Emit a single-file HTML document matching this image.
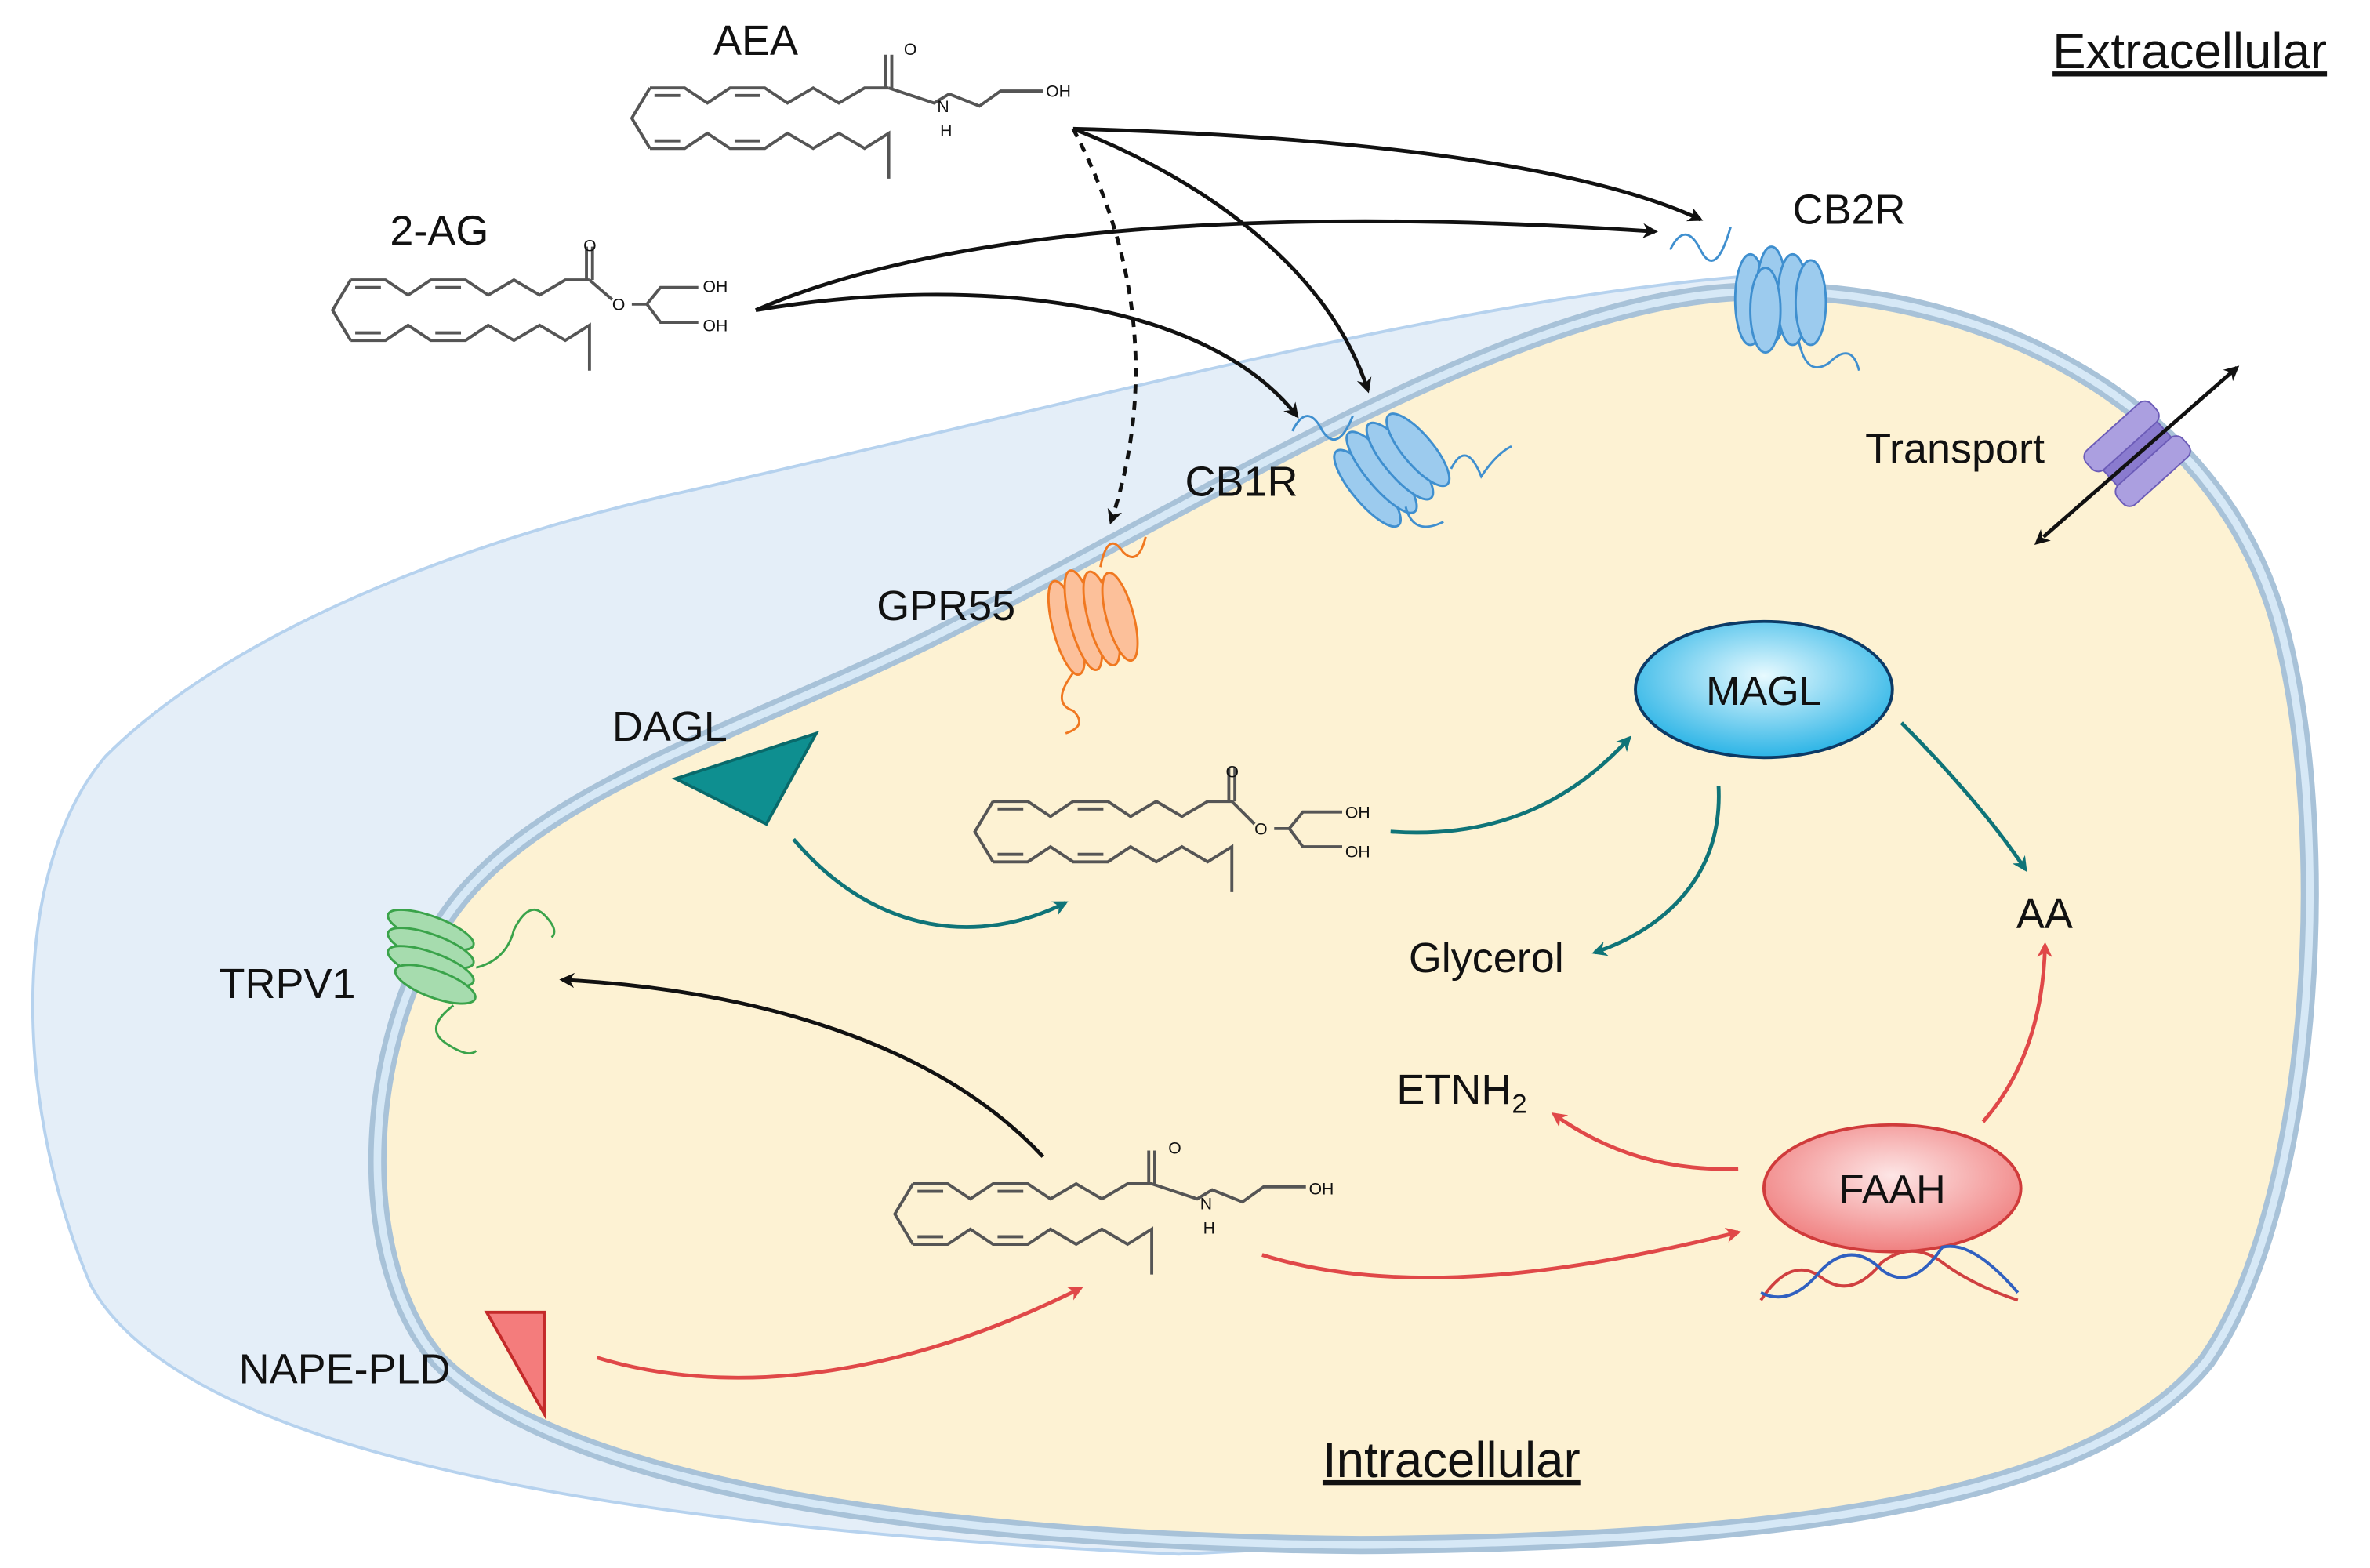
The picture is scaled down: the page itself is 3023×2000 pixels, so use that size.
<!DOCTYPE html>
<html><head><style>
html,body{margin:0;padding:0;background:#fff;}
svg{display:block;}
text{font-family:"Liberation Sans",Arial,sans-serif;fill:#111;}
</style></head><body>
<svg width="3023" height="2000" viewBox="0 0 1568 1037" xmlns="http://www.w3.org/2000/svg">
<defs>
<marker id="ak" markerWidth="10" markerHeight="10" refX="8" refY="5" orient="auto" markerUnits="userSpaceOnUse"><path d="M0,0 L10,5 L0,10 L3,5 Z" fill="#111"/></marker>
<marker id="akr" markerWidth="10" markerHeight="10" refX="2" refY="5" orient="auto-start-reverse" markerUnits="userSpaceOnUse"><path d="M0,0 L10,5 L0,10 L3,5 Z" fill="#111"/></marker>
<marker id="at" markerWidth="10" markerHeight="10" refX="8" refY="5" orient="auto" markerUnits="userSpaceOnUse"><path d="M0,0 L10,5 L0,10 L3,5 Z" fill="#0f7478"/></marker>
<marker id="ar" markerWidth="10" markerHeight="10" refX="8" refY="5" orient="auto" markerUnits="userSpaceOnUse"><path d="M0,0 L10,5 L0,10 L3,5 Z" fill="#e04848"/></marker>
<radialGradient id="gm" cx="50%" cy="40%" r="60%"><stop offset="0" stop-color="#e8faff"/><stop offset="1" stop-color="#2bb4e6"/></radialGradient>
<radialGradient id="gf" cx="50%" cy="40%" r="60%"><stop offset="0" stop-color="#fde6e6"/><stop offset="1" stop-color="#f08080"/></radialGradient>
<g id="mol" fill="none" stroke="#555" stroke-width="2">
<polyline points="12,-20 35,-20 50,-10 65,-20 88,-20 103,-10 120,-20 137,-10 154,-20 170,-20"/>
<polyline points="12,20 35,20 50,10 65,20 88,20 103,10 120,20 137,10 154,20 170,10 170,40"/>
<polyline points="12,-20 0,0 12,20"/>
<line x1="15" y1="-15" x2="32" y2="-15"/><line x1="68" y1="-15" x2="85" y2="-15"/>
<line x1="15" y1="15" x2="32" y2="15"/><line x1="68" y1="15" x2="85" y2="15"/>
<line x1="168" y1="-20" x2="168" y2="-42"/><line x1="172" y1="-20" x2="172" y2="-42"/>
</g>
</defs>
<rect width="1568" height="1037" fill="#fff"/>
<path d="M1150,183 C950,200 700,270 440,328 C300,360 150,420 70,500 C10,570 5,720 60,850 C120,960 400,1010 780,1028 L900,1022 C650,1020 380,990 290,900 C230,830 240,680 300,600 C360,520 500,480 620,420 C800,330 1000,200 1150,193 Z" fill="#e4eef8" stroke="#b6d2ee" stroke-width="2"/>
<path d="M1150,193 C1300,185 1470,260 1510,420 C1545,560 1530,800 1460,900 C1380,1000 1150,1020 900,1022 C650,1020 380,990 290,900 C230,830 240,680 300,600 C360,520 500,480 620,420 C800,330 1000,200 1150,193 Z" fill="#fdf2d3" stroke="#a8c2d8" stroke-width="12"/>
<path d="M1150,193 C1300,185 1470,260 1510,420 C1545,560 1530,800 1460,900 C1380,1000 1150,1020 900,1022 C650,1020 380,990 290,900 C230,830 240,680 300,600 C360,520 500,480 620,420 C800,330 1000,200 1150,193 Z" fill="none" stroke="#d6e8f6" stroke-width="5"/>

<text x="1358" y="45" font-size="33" text-decoration="underline">Extracellular</text>
<text x="875" y="977" font-size="33" text-decoration="underline">Intracellular</text>

<use href="#mol" x="418" y="78"/>
<text x="598" y="36" font-size="11" fill="#444">O</text>
<polyline points="588,58 618,68 628,62 648,70 662,60 690,60" fill="none" stroke="#555" stroke-width="2"/>
<text x="620" y="74" font-size="11">N</text><text x="622" y="90" font-size="11">H</text><text x="692" y="64" font-size="11">OH</text>
<text x="472" y="36" font-size="28">AEA</text>

<use href="#mol" x="220" y="205"/>
<text x="386" y="166" font-size="11">O</text>
<polyline points="390,185 405,198" fill="none" stroke="#555" stroke-width="2"/>
<text x="405" y="205" font-size="11">O</text>
<polyline points="418,201 428,201 437,190 462,190" fill="none" stroke="#555" stroke-width="2"/>
<polyline points="428,201 437,213 462,213" fill="none" stroke="#555" stroke-width="2"/>
<text x="465" y="193" font-size="11">OH</text><text x="465" y="219" font-size="11">OH</text>
<text x="258" y="162" font-size="28">2-AG</text>

<use href="#mol" x="645" y="550"/>
<text x="811" y="514" font-size="11">O</text>
<polyline points="815,530 830,545" fill="none" stroke="#555" stroke-width="2"/>
<text x="830" y="552" font-size="11">O</text>
<polyline points="843,548 853,548 862,537 888,537" fill="none" stroke="#555" stroke-width="2"/>
<polyline points="853,548 862,560 888,560" fill="none" stroke="#555" stroke-width="2"/>
<text x="890" y="541" font-size="11">OH</text><text x="890" y="567" font-size="11">OH</text>

<use href="#mol" x="592" y="803"/>
<text x="773" y="763" font-size="11">O</text>
<polyline points="762,783 792,793 802,787 822,795 836,785 864,785" fill="none" stroke="#555" stroke-width="2"/>
<text x="794" y="800" font-size="11">N</text><text x="796" y="816" font-size="11">H</text><text x="866" y="790" font-size="11">OH</text>

<g stroke="#3f8fcf" stroke-width="1.5" fill="#9ccbee">
<ellipse cx="1158" cy="198" rx="10" ry="30"/><ellipse cx="1172" cy="195" rx="10" ry="32"/><ellipse cx="1186" cy="198" rx="10" ry="30"/><ellipse cx="1198" cy="200" rx="10" ry="28"/><ellipse cx="1168" cy="205" rx="10" ry="28"/>
<path d="M1105,165 q10,-20 20,0 q10,20 20,-15" fill="none"/><path d="M1190,225 q5,25 20,15 q15,-15 20,5" fill="none"/>
<g transform="rotate(-40 920 310)">
<ellipse cx="900" cy="310" rx="10" ry="32"/><ellipse cx="914" cy="308" rx="10" ry="34"/><ellipse cx="928" cy="310" rx="10" ry="32"/><ellipse cx="942" cy="312" rx="10" ry="30"/></g>
<path d="M855,285 q10,-20 20,0 q10,15 20,-10" fill="none"/><path d="M960,310 q10,-20 20,5 q10,-15 20,-20" fill="none"/><path d="M930,335 q5,20 25,10" fill="none"/>
</g>
<text x="1186" y="148" font-size="28">CB2R</text>
<text x="784" y="328" font-size="28">CB1R</text>

<g stroke="#f07820" stroke-width="1.5" fill="#fcc09a">
<g transform="rotate(-15 725 410)">
<ellipse cx="705" cy="410" rx="9" ry="32"/><ellipse cx="717" cy="408" rx="9" ry="34"/><ellipse cx="729" cy="410" rx="9" ry="32"/><ellipse cx="741" cy="412" rx="9" ry="30"/></g>
<path d="M728,375 q5,-25 15,-10 q10,10 15,-10" fill="none"/><path d="M710,445 q-15,20 0,25 q10,10 -5,15" fill="none"/>
</g>
<text x="580" y="410" font-size="28">GPR55</text>

<g stroke="#3aa34a" stroke-width="1.5" fill="#a6dcae">
<ellipse cx="285" cy="615" rx="30" ry="9" transform="rotate(20 285 615)"/><ellipse cx="285" cy="627" rx="30" ry="9" transform="rotate(20 285 627)"/><ellipse cx="285" cy="639" rx="30" ry="9" transform="rotate(20 285 639)"/><ellipse cx="288" cy="651" rx="28" ry="9" transform="rotate(20 288 651)"/>
<path d="M315,640 q20,-5 25,-25 q10,-20 20,-10 q10,10 5,15" fill="none"/><path d="M300,665 q-20,15 -5,25 q15,10 20,5" fill="none"/>
</g>
<text x="145" y="660" font-size="28">TRPV1</text>

<g transform="rotate(-42 1414 300)">
<rect x="1390" y="292" width="48" height="16" fill="#8a7bcf" stroke="#6c5cb8" stroke-width="1"/>
<rect x="1385" y="276" width="58" height="17" rx="6" fill="#ab9fe0" stroke="#6c5cb8" stroke-width="1"/>
<rect x="1385" y="307" width="58" height="17" rx="6" fill="#ab9fe0" stroke="#6c5cb8" stroke-width="1"/>
</g>
<line x1="1352" y1="355" x2="1480" y2="243" stroke="#111" stroke-width="2.5" marker-end="url(#ak)" marker-start="url(#akr)"/>
<text x="1234" y="306" font-size="28">Transport</text>

<polygon points="447,515 540,485 507,545" fill="#0e8f90" stroke="#096a6b" stroke-width="2"/>
<text x="405" y="490" font-size="28">DAGL</text>
<polygon points="322,868 360,868 360,935" fill="#f47c7c" stroke="#c42a2a" stroke-width="2"/>
<text x="158" y="915" font-size="28">NAPE-PLD</text>
<ellipse cx="1167" cy="456" rx="85" ry="45" fill="url(#gm)" stroke="#0c3a66" stroke-width="2"/>
<text x="1167" y="466" font-size="27" text-anchor="middle">MAGL</text>
<ellipse cx="1252" cy="786" rx="85" ry="42" fill="url(#gf)" stroke="#d03b3b" stroke-width="2"/>
<text x="1252" y="796" font-size="27" text-anchor="middle">FAAH</text>
<path d="M1165,860 q20,-30 40,-15 q20,15 40,-10 q20,-15 40,0 q20,15 50,25" fill="none" stroke="#d04040" stroke-width="2"/>
<path d="M1165,855 q20,10 40,-15 q20,-20 40,0 q20,15 40,-15 q20,-5 50,30" fill="none" stroke="#3060c0" stroke-width="2"/>

<text x="932" y="643" font-size="28">Glycerol</text>
<text x="1334" y="614" font-size="28">AA</text>
<text x="924" y="730" font-size="28">ETNH<tspan font-size="18" dy="6">2</tspan></text>

<g fill="none" stroke="#111" stroke-width="2.5">
<path d="M710,85 C900,90 1050,110 1125,145" marker-end="url(#ak)"/>
<path d="M710,85 C800,120 880,180 905,258" marker-end="url(#ak)"/>
<path d="M710,85 C760,180 760,270 735,345" stroke-dasharray="6,5" marker-end="url(#ak)"/>
<path d="M500,205 C650,140 900,140 1095,153" marker-end="url(#ak)"/>
<path d="M500,205 C650,180 800,200 858,275" marker-end="url(#ak)"/>
<path d="M690,765 C620,690 500,655 372,648" marker-end="url(#ak)"/>
</g>
<g fill="none" stroke="#0f7478" stroke-width="2.5">
<path d="M525,555 C580,620 650,625 705,597" marker-end="url(#at)"/>
<path d="M920,550 C990,555 1040,530 1078,488" marker-end="url(#at)"/>
<path d="M1137,520 C1140,580 1100,615 1055,630" marker-end="url(#at)"/>
<path d="M1258,478 C1290,510 1320,545 1340,575" marker-end="url(#at)"/>
</g>
<g fill="none" stroke="#e04848" stroke-width="2.5">
<path d="M395,898 C500,930 620,900 715,852" marker-end="url(#ar)"/>
<path d="M835,830 C930,860 1050,840 1150,815" marker-end="url(#ar)"/>
<path d="M1150,773 C1100,775 1060,760 1028,737" marker-end="url(#ar)"/>
<path d="M1312,742 C1340,710 1352,670 1353,625" marker-end="url(#ar)"/>
</g>
</svg>
</body></html>
